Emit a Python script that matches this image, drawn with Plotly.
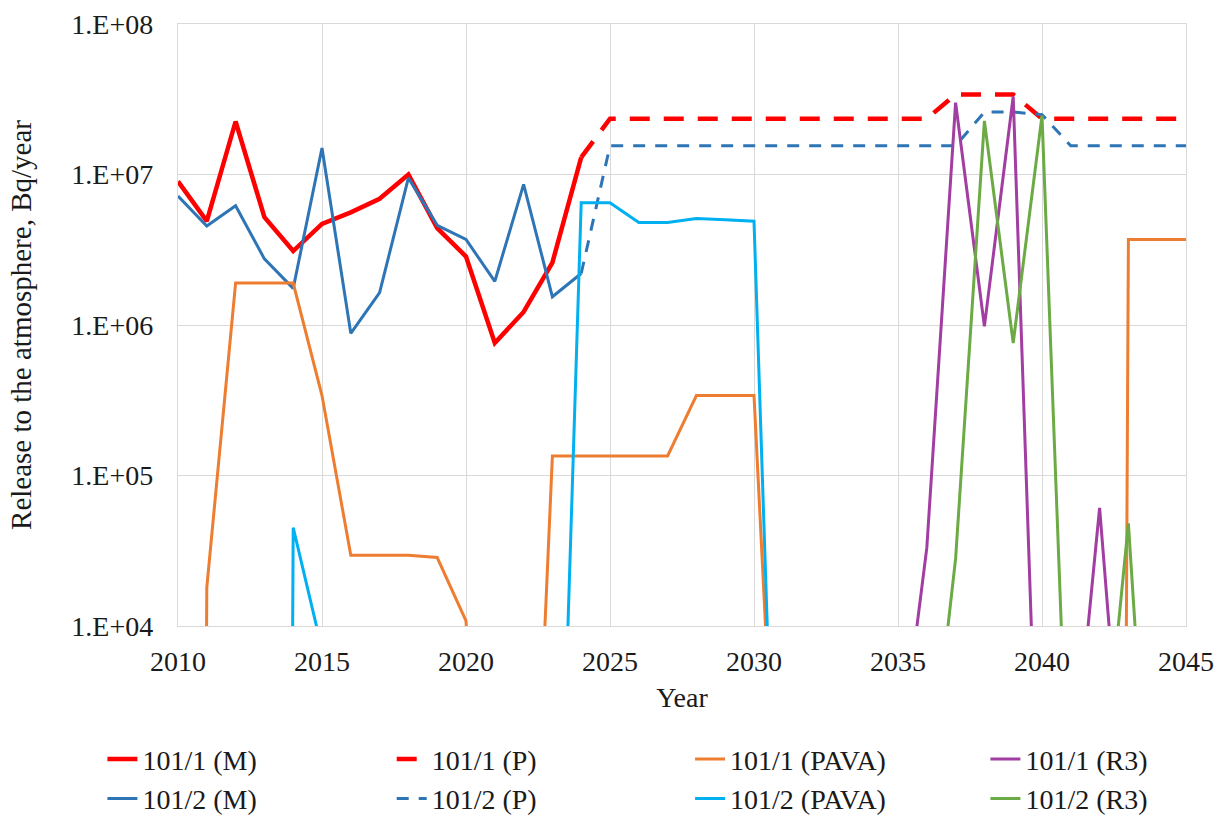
import plotly.graph_objects as go

# Years on the x axis
years = list(range(2010, 2046))

# Release to the atmosphere, Bq/year (None = no data, 0 = nothing released)
u1_m = [9.0e6, 4.9e6, 2.25e7, 5.2e6, 3.1e6, 4.7e6, 5.6e6, 6.9e6, 1.0e7, 4.4e6,
        2.85e6, 7.6e5, 1.22e6, 2.6e6, 1.3e7] + [None] * 21
u2_m = [7.2e6, 4.55e6, 6.2e6, 2.75e6, 1.75e6, 1.5e7, 8.8e5, 1.64e6, 9.5e6, 4.6e6,
        3.7e6, 1.95e6, 8.6e6, 1.54e6, 2.2e6] + [None] * 21

u1_p = [None] * 14 + [1.3e7] + [2.35e7] * 12 + [3.4e7, 3.4e7, 3.4e7] + [2.35e7] * 6
u2_p = [None] * 14 + [2.2e6] + [1.55e7] * 13 + [2.6e7, 2.6e7, 2.5e7] + [1.55e7] * 5

u1_pava = [0, 1.8e4, 1.9e6, 1.9e6, 1.9e6, 3.4e5, 2.95e4, 2.95e4, 2.95e4, 2.85e4,
           1.08e4, 6, 6, 1.35e5, 1.35e5, 1.35e5, 1.35e5, 1.35e5, 3.4e5, 3.4e5,
           3.4e5, 50, 0, 0, 0, 0, 0, 0, 0, 0,
           0, 0, 0, 3.7e6, 3.7e6, 3.7e6]
u2_pava = [0, 0, 0, 0, 4.5e4, 7e3, 0, 0, 0, 0,
           0, 0, 0, 5, 6.5e6, 6.5e6, 4.8e6, 4.8e6, 5.1e6, 5.0e6,
           4.9e6, 7, 0, 0, 0, 0, 0, 0, 0, 0,
           0, 0, 0, 0, 0, 0]

u1_r3 = [None] * 24 + [0, 1e3, 3.3e4, 3.0e7, 9.8e5, 3.3e7, 85, 660, 6.1e4, 250, 0, 0]
u2_r3 = [None] * 24 + [0, 0, 560, 2.8e4, 2.27e7, 7.6e5, 2.46e7, 214, 550, 4.8e4, 52, 0]

y_ticks = [1e4, 1e5, 1e6, 1e7, 1e8]
y_ticktext = ["1.E+04", "1.E+05", "1.E+06", "1.E+07", "1.E+08"]


def on_log(values):
    # zero releases cannot sit on a log axis; push them far below the visible range
    return [v if v is None or v > 0 else 1e-30 for v in values]


serif = "Liberation Serif"
ink = "#1a1a1a"
series = [
    ("101/1 (M)", u1_m, "#FF0000", 4.5, "solid", "legend"),
    ("101/2 (M)", u2_m, "#2E75B6", 3, "solid", "legend"),
    ("101/1 (P)", u1_p, "#FF0000", 4.5, "20px,14px", "legend2"),
    ("101/2 (P)", u2_p, "#2E75B6", 3, "12px,10px", "legend2"),
    ("101/1 (PAVA)", u1_pava, "#ED7D31", 3, "solid", "legend3"),
    ("101/2 (PAVA)", u2_pava, "#00B0F0", 3, "solid", "legend3"),
    ("101/1 (R3)", u1_r3, "#A23DA2", 3, "solid", "legend4"),
    ("101/2 (R3)", u2_r3, "#6BAA44", 3, "solid", "legend4"),
]

fig = go.Figure()
for name, vals, color, width, dash, leg in series:
    fig.add_trace(go.Scatter(
        x=years, y=on_log(vals), name=name, mode="lines",
        line=dict(color=color, width=width, dash=dash),
        legend=leg,
    ))

# one small legend per column, two rows each, like the Excel legend under the plot
legend_style = dict(
    orientation="v", yanchor="top", xanchor="left", y=-0.18,
    font=dict(family=serif, size=28, color=ink),
    bgcolor="rgba(0,0,0,0)", tracegroupgap=0,
)

fig.update_layout(
    width=1217, height=819,
    margin=dict(l=178, r=31, t=24, b=193, autoexpand=False),
    paper_bgcolor="white", plot_bgcolor="white",
    font=dict(family=serif, size=28, color=ink),
    legend=dict(legend_style, x=-0.075),
    legend2=dict(legend_style, x=0.212),
    legend3=dict(legend_style, x=0.508),
    legend4=dict(legend_style, x=0.801),
)

fig.update_xaxes(
    range=[2010, 2045], dtick=5, tick0=2010,
    showgrid=True, gridcolor="#D9D9D9", gridwidth=1.3,
    showline=True, linecolor="#D9D9D9", linewidth=1.3, mirror=True,
    zeroline=False, ticks="", ticklabelstandoff=10,
    tickfont=dict(family=serif, size=28, color=ink),
    title=dict(text="Year", standoff=11, font=dict(family=serif, size=28, color=ink)),
    automargin=False,
)
fig.update_yaxes(
    type="log", range=[4, 8],
    tickvals=y_ticks, ticktext=y_ticktext,
    showgrid=True, gridcolor="#D9D9D9", gridwidth=1.3,
    showline=True, linecolor="#D9D9D9", linewidth=1.3, mirror=True,
    zeroline=False, ticks="", ticklabelstandoff=18,
    tickfont=dict(family=serif, size=28, color=ink),
    title=dict(text="Release to the atmosphere, Bq/year", standoff=31,
               font=dict(family=serif, size=29, color=ink)),
    automargin=False,
)

# drop the browser's default body margin so the figure fills the window exactly
fig.write_html(
    "out.html",
    config={"displayModeBar": False},
    post_script="document.body.style.margin='0';document.body.style.overflow='hidden';",
)
